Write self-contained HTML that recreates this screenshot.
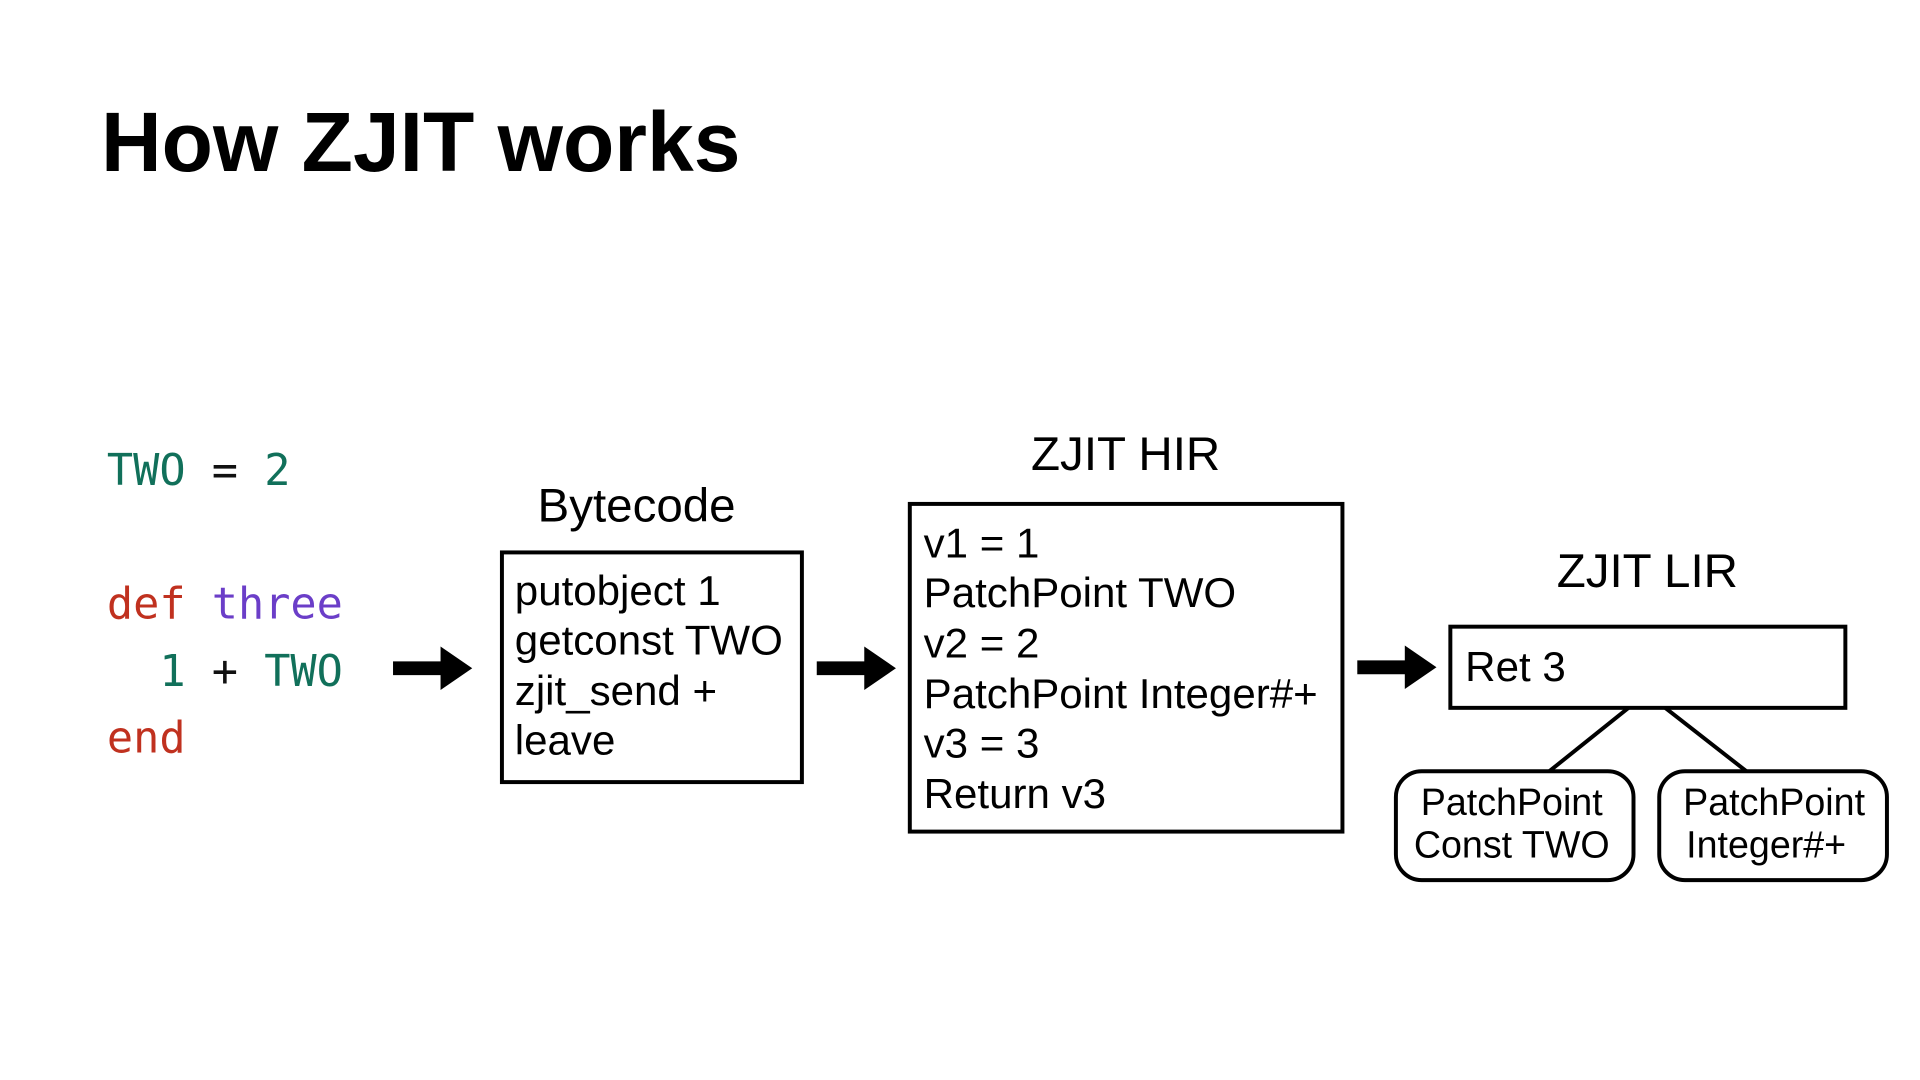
<!DOCTYPE html>
<html><head><meta charset="utf-8"><style>
html,body{margin:0;padding:0;background:#fff;}
svg{display:block;}
</style></head><body>
<svg width="1920" height="1080" viewBox="0 0 1920 1080" xmlns="http://www.w3.org/2000/svg">
<text x="101" y="171" font-family="Liberation Sans, sans-serif" font-weight="bold" font-size="84" fill="#000">How ZJIT works</text>
<g transform="scale(0.99)">
<g font-family="DejaVu Sans Mono, Liberation Mono, monospace" font-size="44">
<text x="108" y="490" fill="#11705a">TWO <tspan fill="#111">=</tspan> 2</text>
<text x="108" y="625"><tspan fill="#c0311f">def</tspan> <tspan fill="#6b3ec8">three</tspan></text>
<text x="108" y="693" xml:space="preserve" fill="#11705a">  1 <tspan fill="#111">+</tspan> TWO</text>
<text x="108" y="760" fill="#c0311f">end</text>
</g>
<g fill="#000">
<path d="M397 668 H445 V653 L477 675 L445 697 V682 H397 Z"/>
<path d="M825 668 H873 V653 L905 675 L873 697 V682 H825 Z"/>
<path d="M1371 667 H1419 V652 L1451 674 L1419 696 V681 H1371 Z"/>
</g>
<g fill="none" stroke="#000" stroke-width="4">
<rect x="507" y="558" width="303" height="232"/>
<rect x="919" y="509" width="437" height="331"/>
<rect x="1465" y="633" width="399" height="82"/>
<rect x="1410" y="779" width="240" height="110" rx="26"/>
<rect x="1676" y="779" width="230" height="110" rx="26"/>
<line x1="1645" y1="715" x2="1565" y2="779"/>
<line x1="1682" y1="715" x2="1764" y2="779"/>
</g>
<g font-family="Liberation Sans, sans-serif" fill="#000">
<text x="643" y="527" font-size="48" text-anchor="middle">Bytecode</text>
<text x="1137" y="475" font-size="48" text-anchor="middle">ZJIT HIR</text>
<text x="1664" y="593" font-size="48" text-anchor="middle">ZJIT LIR</text>
<g font-size="42.5">
<text x="520" y="611">putobject 1</text>
<text x="520" y="661">getconst TWO</text>
<text x="520" y="712">zjit_send +</text>
<text x="520" y="762">leave</text>
<text x="933" y="563">v1 = 1</text>
<text x="933" y="613">PatchPoint TWO</text>
<text x="933" y="664">v2 = 2</text>
<text x="933" y="715">PatchPoint Integer#+</text>
<text x="933" y="765">v3 = 3</text>
<text x="933" y="816">Return v3</text>
<text x="1480" y="688">Ret 3</text>
</g>
<g font-size="38" text-anchor="middle">
<text x="1527" y="823">PatchPoint</text>
<text x="1527" y="866">Const TWO</text>
<text x="1792" y="823">PatchPoint</text>
<text x="1784" y="866">Integer#+</text>
</g>
</g>
</g>
</svg>
</body></html>
